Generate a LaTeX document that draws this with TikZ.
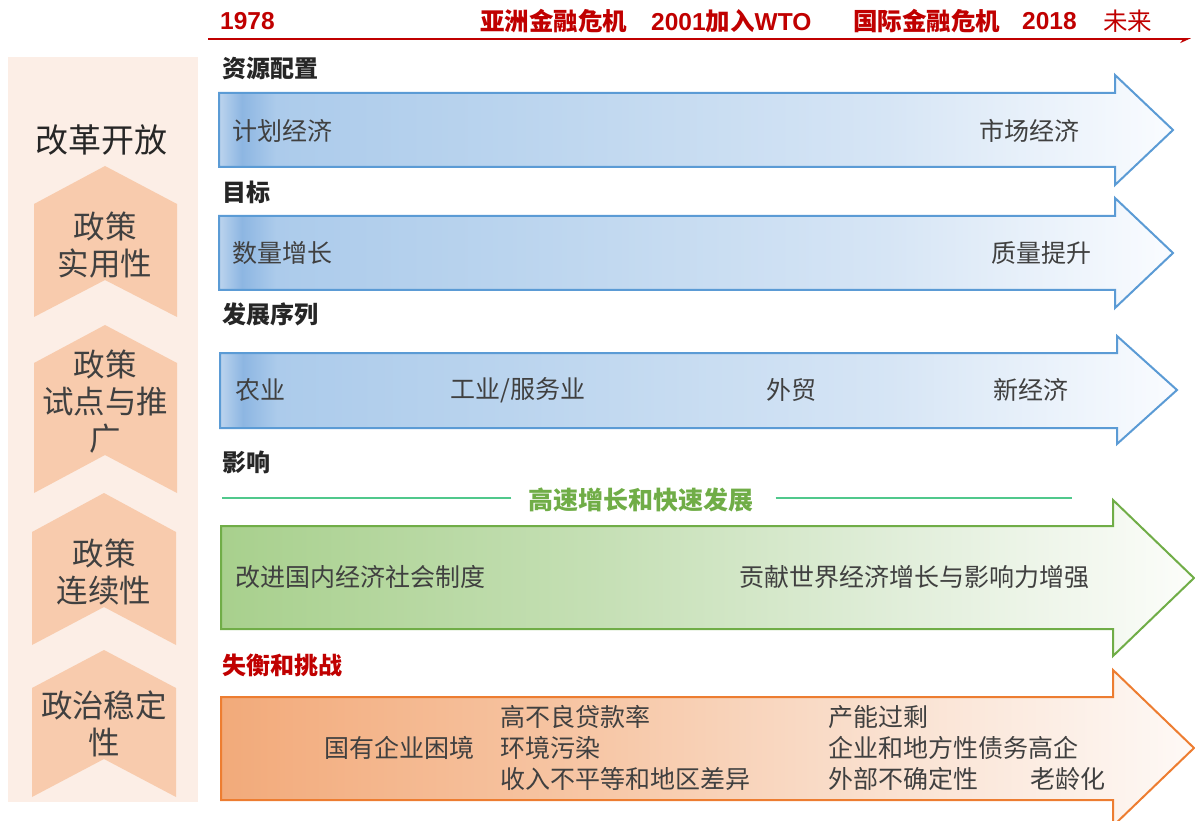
\documentclass[tikz,border=0pt]{standalone}
\usepackage{fontspec}
\setmainfont{Liberation Sans}
\newfontfamily\cjk{Noto Sans CJK SC}
\usetikzlibrary{arrows.meta}
\definecolor{tlred}{RGB}{192,0,0}
\definecolor{txtgray}{RGB}{64,64,64}
\definecolor{hdrgray}{RGB}{38,38,38}
\definecolor{panelbg}{RGB}{252,238,230}
\definecolor{chevfill}{RGB}{248,203,173}
\definecolor{bblue}{RGB}{91,155,213}
\definecolor{bgreen}{RGB}{112,173,71}
\definecolor{borange}{RGB}{237,125,49}
\definecolor{glinec}{RGB}{80,200,140}
% blue shading colours
\definecolor{bA}{RGB}{188,212,238}
\definecolor{bB}{RGB}{141,182,226}
\definecolor{bC}{RGB}{172,203,235}
\definecolor{bD}{RGB}{186,212,238}
\definecolor{bE}{RGB}{214,229,245}
\definecolor{bF}{RGB}{250,252,255}
% green
\definecolor{gA}{RGB}{168,208,141}
\definecolor{gB}{RGB}{198,224,182}
\definecolor{gC}{RGB}{225,238,218}
\definecolor{gD}{RGB}{252,253,250}
% orange
\definecolor{oA}{RGB}{242,170,122}
\definecolor{oB}{RGB}{247,200,168}
\definecolor{oC}{RGB}{250,226,210}
\definecolor{oD}{RGB}{254,249,246}
\pgfdeclarehorizontalshading{blueshade}{100bp}{color(0bp)=(bA); color(25bp)=(bA); color(26.2bp)=(bB); color(28bp)=(bC); color(40bp)=(bD); color(60bp)=(bE); color(75bp)=(bF); color(100bp)=(bF)}
\pgfdeclarehorizontalshading{greenshade}{100bp}{color(0bp)=(gA); color(25bp)=(gA); color(45bp)=(gB); color(60bp)=(gC); color(75bp)=(gD); color(100bp)=(gD)}
\pgfdeclarehorizontalshading{orangeshade}{100bp}{color(0bp)=(oA); color(25bp)=(oA); color(45bp)=(oB); color(60bp)=(oC); color(75bp)=(oD); color(100bp)=(oD)}
\tikzset{
  tltxt/.style={font=\bfseries\fontsize{24.5}{28}\selectfont, text=tlred, inner sep=0pt, anchor=west},
  tlcjk/.style={font=\cjk\bfseries\fontsize{24.5}{28}\selectfont, text=tlred, inner sep=0pt, anchor=west},
  hdr/.style={font=\cjk\bfseries\fontsize{24}{28}\selectfont, text=hdrgray, inner sep=0pt, anchor=west},
  atxt/.style={font=\cjk\fontsize{25}{29}\selectfont, text=txtgray, inner sep=0pt, anchor=west},
  chevbox/.style={fill=chevfill, draw=none},
  chevtxt/.style={font=\cjk\fontsize{31.5}{37}\selectfont, text=txtgray, inner sep=0pt, align=center},
  barrow/.style={shading=blueshade, draw=bblue, line width=2pt, line join=miter},
  garrow/.style={shading=greenshade, draw=bgreen, line width=2pt, line join=miter},
  oarrow/.style={shading=orangeshade, draw=borange, line width=2pt, line join=miter},
  gline/.style={glinec, line width=1.3pt},
}
\begin{document}
\begin{tikzpicture}[x=1pt,y=-1pt]
\useasboundingbox (0,0) rectangle (1195,821);
% timeline
\coordinate (tl0) at (208,39);
\coordinate (tl1) at (1191,39);
\draw[tlred, line width=2.4pt, -{Stealth[length=9pt,width=8pt,harpoon,swap]}] (tl0) -- (tl1);
\node[tltxt] (y1978) at (220,21) {1978};
\node[tlcjk] (asia) at (480,21) {亚洲金融危机};
\node[tltxt] (wto) at (651,21) {2001{\cjk 加入}WTO};
\node[tlcjk] (intl) at (853,21) {国际金融危机};
\node[tltxt] (y2018) at (1022,21) {2018};
\node[tlcjk, font=\cjk\fontsize{24.5}{28}\selectfont] (future) at (1103,21) {未来};
% left panel
\fill[panelbg] (8,57) rectangle (198,802);
\node[font=\cjk\fontsize{33}{38}\selectfont, text=hdrgray, inner sep=0pt] (reform) at (101,140) {改革开放};
\fill[chevbox] (105,166) -- (177,204) -- (177,317) -- (105,280) -- (34,317) -- (34,204) -- cycle;
\fill[chevbox] (105,325) -- (177,363) -- (177,493) -- (105,455) -- (34,493) -- (34,363) -- cycle;
\fill[chevbox] (104,493) -- (176,532) -- (176,645) -- (104,607) -- (32,645) -- (32,532) -- cycle;
\fill[chevbox] (104,650) -- (176,688) -- (176,797) -- (104,759) -- (32,797) -- (32,688) -- cycle;
\node[chevtxt] (c1) at (105,245) {政策\\实用性};
\node[chevtxt] (c2) at (105,402) {政策\\试点与推\\广};
\node[chevtxt] (c3) at (104,572) {政策\\连续性};
\node[chevtxt] (c4) at (104,724) {政治稳定\\性};
% headers
\node[hdr] (h1) at (222,68) {资源配置};
\node[hdr] (h2) at (222,192) {目标};
\node[hdr] (h3) at (222,314) {发展序列};
\node[hdr] (h4) at (222,462) {影响};
\node[hdr, text=tlred] (h5) at (222,665) {失衡和挑战};
% arrows
\shadedraw[barrow] (219,93) -- (1115,93) -- (1115,75) -- (1173,130) -- (1115,185) -- (1115,167) -- (219,167) -- cycle;
\shadedraw[barrow] (219,216) -- (1115,216) -- (1115,198) -- (1173,253) -- (1115,308) -- (1115,290) -- (219,290) -- cycle;
\shadedraw[barrow] (220,353) -- (1117,353) -- (1117,336) -- (1177,390) -- (1117,444) -- (1117,428) -- (220,428) -- cycle;
\shadedraw[garrow] (221,526) -- (1113,526) -- (1113,500) -- (1194,578) -- (1113,656) -- (1113,629) -- (221,629) -- cycle;
\shadedraw[oarrow] (221,697) -- (1113,697) -- (1113,670) -- (1194,748) -- (1113,826) -- (1113,800) -- (221,800) -- cycle;
% arrow texts
\node[atxt] (a1l) at (232,131) {计划经济};
\node[atxt] (a1r) at (979,131) {市场经济};
\node[atxt] (a2l) at (232,253) {数量增长};
\node[atxt] (a2r) at (991,253) {质量提升};
\node[atxt] (a3a) at (235,390) {农业};
\node[atxt] (a3b) at (450,390) {工业/服务业};
\node[atxt] (a3c) at (766,390) {外贸};
\node[atxt] (a3d) at (993,390) {新经济};
% green title
\node[font=\cjk\bfseries\fontsize{25}{29}\selectfont, text=bgreen, inner sep=0pt] (gtitle) at (641,500) {高速增长和快速发展};
\coordinate (gl0) at (222,498);
\coordinate (gl1) at (1072,498);
\draw[gline, shorten <=17pt] (gtitle.west |- gl0) -- (gl0);
\draw[gline, shorten <=22pt] (gtitle.east |- gl1) -- (gl1);
\node[atxt] (g1) at (235,577) {改进国内经济社会制度};
\node[atxt] (g2) at (739,577) {贡献世界经济增长与影响力增强};
% orange texts
\node[atxt] (o1) at (324,748) {国有企业困境};
\node[atxt] (o2) at (500,717) {高不良贷款率};
\node[atxt] (o3) at (500,748) {环境污染};
\node[atxt] (o4) at (500,779) {收入不平等和地区差异};
\node[atxt] (o5) at (828,717) {产能过剩};
\node[atxt] (o6) at (828,748) {企业和地方性债务高企};
\node[atxt] (o7) at (828,779) {外部不确定性};
\node[atxt] (o8) at (1030,779) {老龄化};
\end{tikzpicture}
\end{document}
